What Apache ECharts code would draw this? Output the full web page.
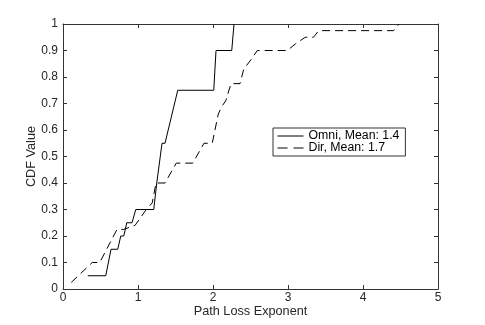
<!DOCTYPE html>
<html><head><meta charset="utf-8">
<script src="https://cdn.jsdelivr.net/npm/echarts@6/dist/echarts.min.js"></script>
<style>html,body{margin:0;padding:0;background:#fff}#c{width:485px;height:325px}</style>
</head><body><div id="c"></div>
<script>
var xTicks = [0, 1, 2, 3, 4, 5];
var yTicks = [0, 0.1, 0.2, 0.3, 0.4, 0.5, 0.6, 0.7, 0.8, 0.9, 1];
var seriesNames = ['Omni, Mean: 1.4', 'Dir, Mean: 1.7'];
var omniX = [0.33, 0.57, 0.64, 0.73, 0.77, 0.81, 0.85, 0.92, 0.97, 1.21, 1.25, 1.32, 1.36, 1.53, 2.01, 2.04, 2.25, 2.28];
var omniY = [0.05, 0.05, 0.15, 0.15, 0.2, 0.2, 0.25, 0.25, 0.3, 0.3, 0.4, 0.55, 0.55, 0.75, 0.75, 0.9, 0.9, 1.0];
var dirX = [0.11, 0.39, 0.49, 0.72, 0.81, 0.96, 1.11, 1.19, 1.24, 1.36, 1.51, 1.73, 1.88, 1.99, 2.07, 2.12, 2.17, 2.24, 2.36, 2.41, 2.52, 2.59, 2.99, 3.1, 3.23, 3.34, 3.41, 4.41, 4.48];
var dirY = [0.025, 0.1, 0.1, 0.225, 0.225, 0.24, 0.3, 0.325, 0.4, 0.4, 0.475, 0.475, 0.55, 0.55, 0.66, 0.69, 0.71, 0.775, 0.775, 0.83, 0.87, 0.9, 0.9, 0.925, 0.95, 0.95, 0.975, 0.975, 1.0];

function pairs(xs, ys) { return xs.map(function (x, i) { return [x, ys[i]]; }); }
var font = '"Liberation Sans", Arial, sans-serif';
var axisCol = '#333';
function fmtY(v) { return v === 0 ? '0' : (v === 1 ? '1' : v.toFixed(1)); }

var chart = echarts.init(document.getElementById('c'), null, {renderer: 'canvas'});
function baseX() {
  return {
    type: 'value', min: 0, max: 5, interval: 1,
    axisLine: {show: true, onZero: false, lineStyle: {color: axisCol, width: 1}},
    axisTick: {show: true, inside: true, length: 4, lineStyle: {color: axisCol}},
    splitLine: {show: false}, nameMoveOverlap: false
  };
}
function baseY() {
  return {
    type: 'value', min: 0, max: 1, interval: 0.1,
    axisLine: {show: true, onZero: false, lineStyle: {color: axisCol, width: 1}},
    axisTick: {show: true, inside: true, length: 4, lineStyle: {color: axisCol}},
    splitLine: {show: false}, nameMoveOverlap: false
  };
}
chart.setOption({
  animation: false,
  backgroundColor: '#fff',
  grid: {left: 63, right: 47, top: 24, bottom: 36, containLabel: false},
  xAxis: [
    Object.assign(baseX(), {
      position: 'bottom',
      name: 'Path Loss Exponent', nameLocation: 'middle', nameGap: 16,
      nameTextStyle: {fontFamily: font, fontSize: 12.7, color: '#262626'},
      axisLabel: {show: true, fontFamily: font, fontSize: 12, color: '#262626', margin: 3,
        formatter: function (v) { return xTicks.indexOf(v) >= 0 ? String(v) : ''; }}
    }),
    Object.assign(baseX(), {position: 'top', axisLabel: {show: false}})
  ],
  yAxis: [
    Object.assign(baseY(), {
      position: 'left',
      name: 'CDF Value', nameLocation: 'middle', nameGap: 25, nameRotate: 90,
      nameTextStyle: {fontFamily: font, fontSize: 12.7, color: '#262626'},
      axisLabel: {show: true, fontFamily: font, fontSize: 12, color: '#262626', margin: 5,
        formatter: function (v) { return fmtY(Math.round(v * 10) / 10); }}
    }),
    Object.assign(baseY(), {position: 'right', axisLabel: {show: false}})
  ],
  legend: {
    show: true, orient: 'vertical', left: 273, top: 128,
    itemWidth: 26, itemHeight: 11, itemGap: 0,
    padding: [2, 6, 2, 4],
    borderColor: '#333', borderWidth: 1, borderRadius: 0,
    backgroundColor: '#fff',
    textStyle: {fontFamily: font, fontSize: 12.3, color: '#000', lineHeight: 11},
    data: [
      {name: seriesNames[0], itemStyle: {opacity: 0}, lineStyle: {color: '#000', width: 1, type: 'solid'}},
      {name: seriesNames[1], itemStyle: {opacity: 0}, lineStyle: {color: '#000', width: 1, type: [10, 6]}}
    ]
  },
  series: [
    {name: seriesNames[0], type: 'line', data: pairs(omniX, omniY), showSymbol: false, symbol: 'none',
      xAxisIndex: 0, yAxisIndex: 0,
      lineStyle: {color: '#000', width: 1, type: 'solid'}, itemStyle: {color: '#000'}},
    {name: seriesNames[1], type: 'line', data: pairs(dirX, dirY), showSymbol: false, symbol: 'none',
      xAxisIndex: 0, yAxisIndex: 0,
      lineStyle: {color: '#000', width: 1, type: [8, 5]}, itemStyle: {color: '#000'}}
  ]
});
</script></body></html>
